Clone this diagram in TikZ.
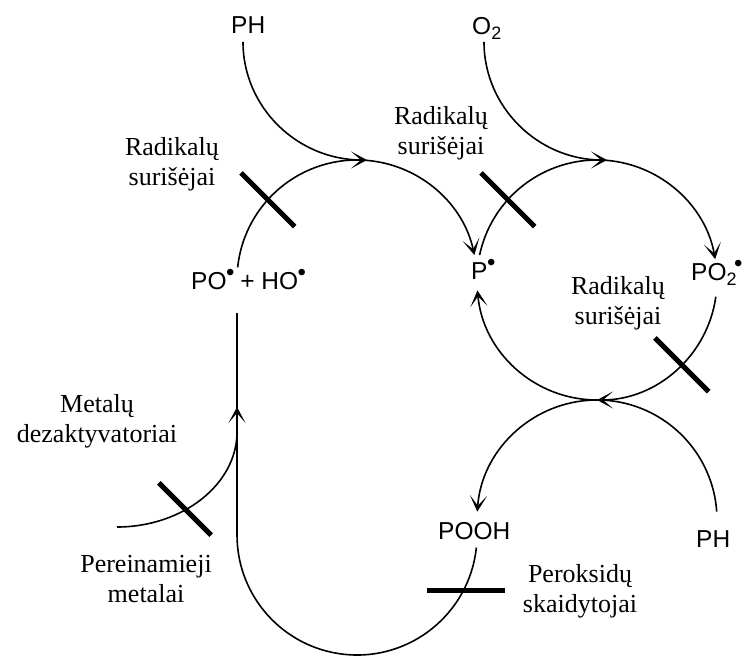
\documentclass[tikz,border=0pt]{standalone}
\usepackage{fontspec}
\setmainfont{Liberation Serif}
\newfontfamily\sff{Liberation Sans}
\usetikzlibrary{arrows.meta,calc}
\newcommand\rdot{\kern-0.5pt\raisebox{0.40em}{\fontsize{24pt}{24pt}\selectfont\sff •}\kern-1pt}
\newcommand\subtwo{\raisebox{-0.17em}{\fontsize{18pt}{18pt}\selectfont\sff 2}}
\begin{document}
\begin{tikzpicture}[x=1pt,y=1pt,
  chem/.style={font=\sff\fontsize{24.5pt}{26pt}\selectfont, inner sep=0pt, anchor=base west},
  lbl/.style={font=\fontsize{26pt}{30pt}\selectfont, align=center, inner sep=0pt},
  flow/.style={line width=1.6pt},
  arr/.style={flow, -{Stealth[length=16pt,width=17pt,inset=10pt]}},
  bar/.style={line width=5pt},
]
\useasboundingbox (0,0) rectangle (743,664);
\coordinate (C1) at (357,384);
\coordinate (C2) at (597,384);
\coordinate (C3) at (597,144);
\coordinate (C4) at (357,129);

% chemical species
\node[chem] (ph1) at (231,630) {PH};
\node[chem] (o2) at (472,629) {O\subtwo};
\node[chem] (p) at (471,384) {P\rdot};
\node[chem] (po2) at (691,383) {PO\subtwo\kern-2pt\rdot};
\node[chem] (poho) at (191,374) {PO\rdot\ + HO\rdot};
\node[chem] (pooh) at (438,125) {POOH};
\node[chem] (ph2) at (696,117) {PH};

% labels
\node[lbl] (l1) at (172,500) {Radikalų\\surišėjai};
\node[lbl] (l2) at (441,531) {Radikalų\\surišėjai};
\node[lbl] (l3) at (618,361) {Radikalų\\surišėjai};
\node[lbl] (l4) at (97,243) {Metalų\\dezaktyvatoriai};
\node[lbl] (l5) at (146,85) {Pereinamieji\\metalai};
\node[lbl] (l6) at (580,73) {Peroksidų\\skaidytojai};

% connector end points
\coordinate (ph1s) at (243,622);
\coordinate (top1) at (367,504);
\coordinate (o2s) at (484,622);
\coordinate (top2) at (607,504);
\coordinate (mets) at (117,137);
\coordinate (metj) at (237,232);
\coordinate (uparr) at (237,257);
\coordinate (potop) at (237,351);

% flows
\draw[arr] (ph1s) .. controls (243,557) and (297,504) .. (top1);
\draw[arr] (o2s) .. controls (484,557) and (538,504) .. (top2);
\draw[arr] ($(C1)+(174:120)$) arc (174:12:120);
\draw[arr] ($(C2)+(168:120)$) arc (168:10:120);
\draw[arr] ($(C2)+(-8:120)$) arc (-8:-90:120);
\draw[arr] ($(C2)+(-90:120)$) arc (-90:-175:120);
\draw[arr] ($(C3)+(4:120)$) arc (4:176:120);
\draw[flow] ($(C4)+(-6:120)$) arc (-6:-180:120) -- (uparr);
\draw[arr] ($(C4)+(-180:120)$) -- (uparr);
\draw[flow] (uparr) -- (potop);
\draw[flow] (mets) .. controls (183,137) and (237,180) .. (metj);

% inhibitor bars
\draw[bar] ($(C1)+(138:120)+(135:38)$) -- ($(C1)+(138:120)+(-45:38)$);
\draw[bar] ($(C2)+(138:120)+(135:38)$) -- ($(C2)+(138:120)+(-45:38)$);
\draw[bar] ($(C2)+(-45:120)+(135:38)$) -- ($(C2)+(-45:120)+(-45:38)$);
\draw[bar] ($(185,155)+(135:37)$) -- ($(185,155)+(-45:37)$);
\draw[bar] (427,74) -- (505,74);
\end{tikzpicture}
\end{document}
